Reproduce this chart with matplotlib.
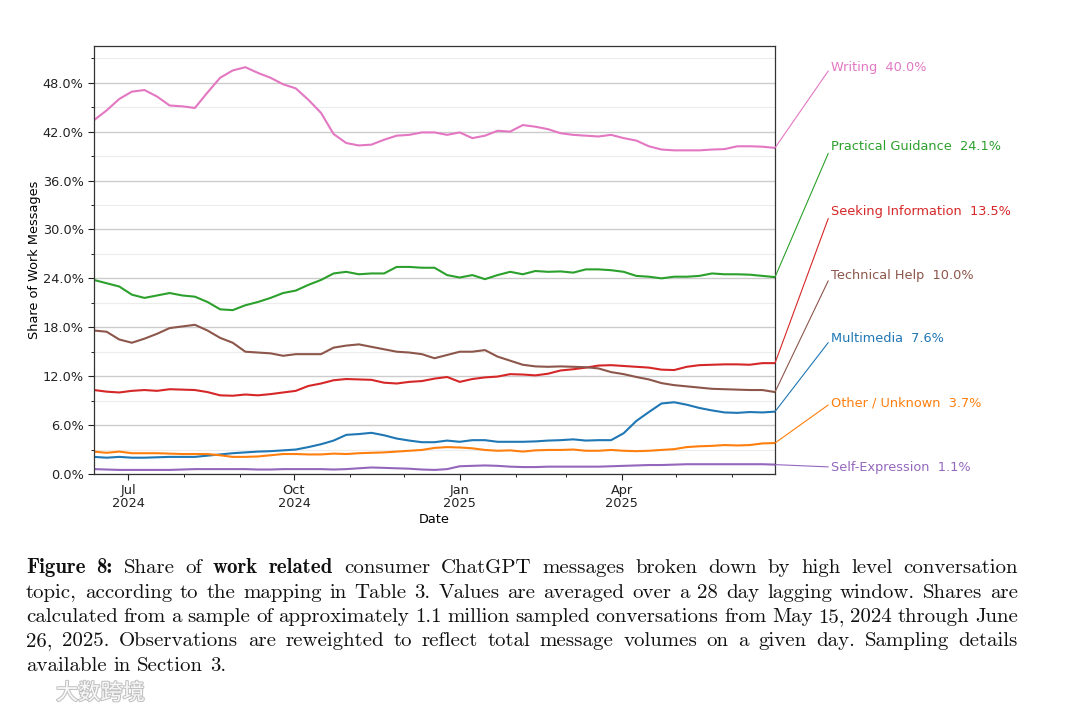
import matplotlib
matplotlib.use("Agg")
import matplotlib.pyplot as plt
import matplotlib.dates as mdates
import matplotlib.patheffects as pe
from matplotlib.ticker import MultipleLocator, FuncFormatter
import pandas as pd

# weekly samples (28 day lagging averages, % of work messages)
dates = pd.date_range("2024-06-12", periods=55, freq="7D")

writing = [43.4, 44.6, 46.0, 46.9, 47.1, 46.3, 45.2, 45.1, 44.9, 46.8,
           48.6, 49.5, 49.9, 49.2, 48.6, 47.8, 47.3, 45.9, 44.3, 41.7,
           40.6, 40.3, 40.4, 41.0, 41.5, 41.6, 41.9, 41.9, 41.6, 41.9,
           41.2, 41.5, 42.1, 42.0, 42.8, 42.6, 42.3, 41.8, 41.6, 41.5,
           41.4, 41.6, 41.2, 40.9, 40.2, 39.8, 39.7, 39.7, 39.7, 39.8,
           39.85, 40.2, 40.2, 40.15, 40.0]
practical = [23.8, 23.4, 23.0, 22.0, 21.6, 21.9, 22.2, 21.9, 21.75, 21.1,
             20.2, 20.1, 20.7, 21.1, 21.6, 22.2, 22.5, 23.2, 23.8, 24.6,
             24.8, 24.5, 24.6, 24.6, 25.4, 25.4, 25.3, 25.3, 24.4, 24.1,
             24.4, 23.9, 24.4, 24.8, 24.5, 24.9, 24.8, 24.85, 24.7, 25.1,
             25.1, 25.0, 24.8, 24.3, 24.2, 24.0, 24.2, 24.2, 24.3, 24.6,
             24.5, 24.5, 24.45, 24.3, 24.15]
seeking = [10.3, 10.1, 10.0, 10.2, 10.3, 10.2, 10.4, 10.35, 10.3, 10.05,
           9.65, 9.6, 9.75, 9.65, 9.8, 10.0, 10.2, 10.8, 11.1, 11.5,
           11.65, 11.6, 11.55, 11.2, 11.1, 11.3, 11.4, 11.7, 11.9, 11.3,
           11.65, 11.85, 11.95, 12.25, 12.2, 12.1, 12.3, 12.7, 12.85, 13.05,
           13.3, 13.35, 13.25, 13.15, 13.05, 12.8, 12.75, 13.15, 13.35, 13.4,
           13.45, 13.45, 13.4, 13.6, 13.6]
technical = [17.6, 17.45, 16.5, 16.1, 16.6, 17.2, 17.9, 18.1, 18.3, 17.6,
             16.7, 16.1, 15.0, 14.9, 14.8, 14.5, 14.7, 14.7, 14.7, 15.5,
             15.75, 15.9, 15.6, 15.3, 15.0, 14.9, 14.7, 14.2, 14.6, 15.0,
             15.0, 15.2, 14.4, 13.9, 13.4, 13.2, 13.15, 13.2, 13.15, 13.1,
             12.95, 12.5, 12.25, 11.9, 11.6, 11.15, 10.9, 10.75, 10.6, 10.45,
             10.4, 10.35, 10.3, 10.3, 10.05]
multimedia = [2.1, 2.0, 2.1, 2.0, 2.0, 2.05, 2.1, 2.1, 2.1, 2.25,
              2.4, 2.55, 2.65, 2.75, 2.8, 2.9, 3.0, 3.3, 3.65, 4.1,
              4.8, 4.9, 5.05, 4.75, 4.35, 4.1, 3.9, 3.9, 4.1, 3.95,
              4.15, 4.15, 3.95, 3.95, 3.95, 4.0, 4.1, 4.15, 4.25, 4.1,
              4.15, 4.15, 5.0, 6.5, 7.6, 8.65, 8.8, 8.5, 8.1, 7.8,
              7.55, 7.5, 7.6, 7.55, 7.65]
other = [2.75, 2.6, 2.75, 2.55, 2.55, 2.55, 2.5, 2.45, 2.45, 2.45,
         2.3, 2.1, 2.1, 2.15, 2.3, 2.45, 2.45, 2.4, 2.4, 2.5,
         2.45, 2.55, 2.6, 2.65, 2.75, 2.85, 2.95, 3.2, 3.3, 3.25,
         3.15, 2.95, 2.85, 2.9, 2.75, 2.9, 2.95, 2.95, 3.0, 2.85,
         2.85, 2.95, 2.85, 2.8, 2.85, 2.95, 3.05, 3.3, 3.4, 3.45,
         3.55, 3.5, 3.55, 3.75, 3.8]
self_expr = [0.6, 0.55, 0.5, 0.5, 0.5, 0.5, 0.5, 0.55, 0.6, 0.6,
             0.6, 0.6, 0.6, 0.55, 0.55, 0.6, 0.6, 0.6, 0.6, 0.55,
             0.6, 0.7, 0.8, 0.75, 0.7, 0.65, 0.55, 0.5, 0.6, 0.95,
             1.0, 1.05, 1.0, 0.9, 0.85, 0.85, 0.9, 0.9, 0.9, 0.9,
             0.9, 0.95, 1.0, 1.05, 1.1, 1.1, 1.15, 1.2, 1.2, 1.2,
             1.2, 1.2, 1.2, 1.2, 1.15]

topics = ["Writing", "Practical Guidance", "Seeking Information", "Technical Help",
          "Multimedia", "Other / Unknown", "Self-Expression"]
series = [writing, practical, seeking, technical, multimedia, other, self_expr]
final_shares = [40.0, 24.1, 13.5, 10.0, 7.6, 3.7, 1.1]
colors = ["#e377c2", "#2ca02c", "#d62728", "#8c564b", "#1f77b4", "#ff7f0e", "#9467bd"]

W, H = 1080, 714
FS = 9.3

fig = plt.figure(figsize=(W / 100, H / 100), dpi=100)
ax = fig.add_axes([94 / W, 1 - 474 / H, (775 - 94) / W, (474 - 46) / H])

for vals, c in zip(series, colors):
    ax.plot(dates, vals, color=c, lw=1.5)

ax.set_xlim(dates[0], dates[-1])
ax.set_ylim(0, 52.5)
ax.yaxis.set_major_locator(MultipleLocator(6))
ax.yaxis.set_minor_locator(MultipleLocator(3))
ax.yaxis.set_major_formatter(FuncFormatter(lambda v, p: f"{v:.1f}%"))
ax.xaxis.set_major_locator(mdates.MonthLocator(bymonth=[1, 4, 7, 10]))
ax.xaxis.set_minor_locator(mdates.MonthLocator())
ax.xaxis.set_major_formatter(mdates.DateFormatter("%b\n%Y"))
ax.grid(True, axis="y", which="major", color="#cccccc", lw=1.0)
ax.grid(True, axis="y", which="minor", color="#ececec", lw=0.8)
ax.set_axisbelow(True)
ax.tick_params(labelsize=FS, colors="#222222")
ax.tick_params(which="major", length=4)
ax.tick_params(which="minor", length=2.5)
for lbl in ax.get_xticklabels():
    lbl.set_linespacing(1.0)
for s in ax.spines.values():
    s.set_color("#333333")
    s.set_linewidth(0.9)
ax.set_xlabel("Date", fontsize=FS, labelpad=2)
ax.set_ylabel("Share of Work Messages", fontsize=FS, labelpad=1)

# end labels joined to the last point of each line
label_y = [67, 147, 211, 275, 339, 403, 467]
for name, share, vals, c, ly in zip(topics, final_shares, series, colors, label_y):
    ax.annotate(f"{name}  {share:.1f}%", xy=(dates[-1], vals[-1]),
                xytext=(831 / W, 1 - ly / H), textcoords="figure fraction",
                ha="left", va="center", fontsize=FS, color=c, annotation_clip=False,
                arrowprops=dict(arrowstyle="-", color=c, lw=0.8, relpos=(0, 0.5),
                                shrinkA=0, shrinkB=0))

# caption, justified word by word
caption = [
    [("Figure 8:", True), ("Share of", False), ("work related", True),
     ("consumer ChatGPT messages broken down by high level conversation", False)],
    [("topic, according to the mapping in Table 3. Values are averaged over a 28 day lagging window. Shares are", False)],
    [("calculated from a sample of approximately 1.1 million sampled conversations from May 15, 2024 through June", False)],
    [("26, 2025. Observations are reweighted to reflect total message volumes on a given day. Sampling details", False)],
    [("available in Section 3.", False)],
]
cap_x0, cap_x1 = 26, 1018
cap_base = [573, 597.5, 622, 646.5, 671]
cap_fs = 15
renderer = fig.canvas.get_renderer()
for i, line in enumerate(caption):
    words = [(w, b) for seg, b in line for w in seg.split()]
    texts = [fig.text(0, 1 - cap_base[i] / H, w, fontsize=cap_fs, va="baseline",
                      family="cmb10" if b else "cmr10", color="#111111") for w, b in words]
    widths = [t.get_window_extent(renderer).width for t in texts]
    if i < len(caption) - 1:
        gap = (cap_x1 - cap_x0 - sum(widths)) / (len(words) - 1)
    else:
        gap = cap_fs * 0.45
    x = cap_x0
    for t, w in zip(texts, widths):
        t.set_x(x / W)
        x += w + gap

# watermark
fig.text(56 / W, 1 - 693 / H, "大数跨境", fontsize=16, family=["Noto Sans CJK SC", "DejaVu Sans"],
         color="white", va="center", alpha=0.9,
         path_effects=[pe.withStroke(linewidth=1.5, foreground="#bbbbbb")])

fig.savefig("out.png", dpi=100, facecolor="white")
